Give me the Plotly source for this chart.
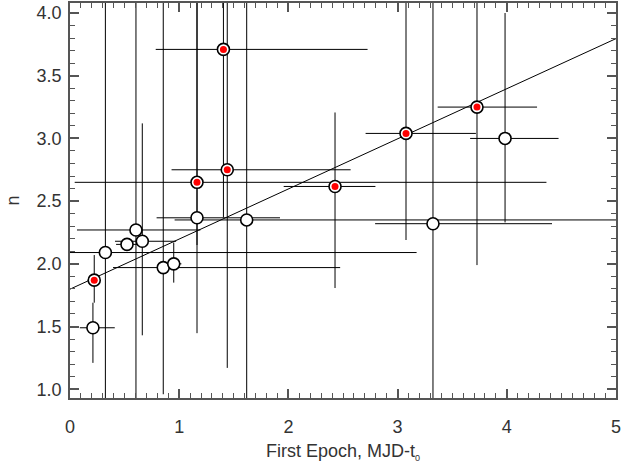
import plotly.graph_objects as go

# Red (filled) points
red_x = [1.405, 1.163, 1.440, 2.427, 3.077, 3.727, 0.222]
red_y = [3.71, 2.65, 2.75, 2.617, 3.04, 3.25, 1.87]
red_xm = [0.62, 1.12, 0.51, 0.47, 0.37, 0.36, 0.06]
red_xp = [1.32, 3.20, 1.13, 0.37, 0.64, 0.55, 0.05]
red_ym = [1.34, 0.50, 1.58, 0.81, 0.85, 1.26, 0.18]
red_yp = [1.00, 1.50, 1.50, 0.59, 1.20, 1.00, 0.20]

# Open points
open_x = [0.21, 0.324, 0.522, 0.604, 0.662, 0.854, 0.95, 1.163, 1.618, 3.324, 3.984]
open_y = [1.49, 2.09, 2.155, 2.27, 2.18, 1.97, 2.0, 2.367, 2.35, 2.32, 3.0]
open_xm = [0.12, 0.50, 0.10, 0.54, 0.25, 0.46, 0.06, 0.37, 0.66, 0.53, 0.32]
open_xp = [0.20, 2.85, 0.10, 0.59, 0.31, 1.62, 0.07, 0.76, 3.60, 1.09, 0.49]
open_ym = [0.28, 1.50, 0.05, 2.00, 0.75, 1.01, 0.15, 0.92, 2.00, 2.00, 0.67]
open_yp = [0.20, 2.50, 0.05, 2.00, 0.94, 2.50, 0.17, 2.00, 2.00, 2.00, 1.00]

# Linear fit
fit_x = [0.0, 5.0]
fit_y = [1.798, 3.796]

txt = "#333333"
axc = "#555555"

def eb(plus, minus):
    return dict(type="data", symmetric=False, array=plus, arrayminus=minus,
                color="black", thickness=1, width=0)

fig = go.Figure()
fig.add_trace(go.Scatter(x=open_x, y=open_y, mode="markers",
                         error_x=eb(open_xp, open_xm), error_y=eb(open_yp, open_ym),
                         marker=dict(size=12, color="rgba(0,0,0,0)", line=dict(width=0)),
                         showlegend=False, hoverinfo="skip"))
fig.add_trace(go.Scatter(x=red_x, y=red_y, mode="markers",
                         error_x=eb(red_xp, red_xm), error_y=eb(red_yp, red_ym),
                         marker=dict(size=12, color="rgba(0,0,0,0)", line=dict(width=0)),
                         showlegend=False, hoverinfo="skip"))
fig.add_trace(go.Scatter(x=fit_x, y=fit_y, mode="lines",
                         line=dict(color="black", width=1), showlegend=False))
fig.add_trace(go.Scatter(x=open_x, y=open_y, mode="markers",
                         marker=dict(size=12, color="white", line=dict(color="black", width=1.6)),
                         showlegend=False))
fig.add_trace(go.Scatter(x=red_x, y=red_y, mode="markers",
                         marker=dict(size=12, color="white", line=dict(color="black", width=1.6)),
                         showlegend=False))
fig.add_trace(go.Scatter(x=red_x, y=red_y, mode="markers",
                         marker=dict(size=7, color="red", line=dict(width=0)),
                         showlegend=False))

fig.update_layout(
    width=623, height=467,
    margin=dict(l=70, r=7, t=3, b=69),
    paper_bgcolor="white", plot_bgcolor="white",
    font=dict(family="Liberation Sans, Arial, sans-serif", size=18, color=txt),
    annotations=[
        dict(text="First Epoch, MJD-t<sub><span style='font-size:9px'>0</span></sub>",
             xref="paper", yref="paper",
             x=0.5, y=0, xanchor="center", yanchor="middle", yshift=-54,
             showarrow=False, font=dict(size=18, color=txt)),
        dict(text="n", xref="paper", yref="paper", x=0, y=0.5,
             xanchor="center", yanchor="middle", xshift=-58, textangle=-90,
             showarrow=False, font=dict(size=18, color=txt)),
    ],
)
fig.update_xaxes(
    range=[0, 5], dtick=1, tick0=0, showgrid=False, zeroline=False, automargin=False,
    showline=True, linecolor=axc, linewidth=1.5, mirror="ticks",
    ticks="inside", ticklen=9, tickcolor=axc, tickwidth=1.5,
    minor=dict(dtick=0.1, ticks="inside", ticklen=5, tickcolor=axc, tickwidth=1, showgrid=False),
    ticklabelstandoff=12, ticklabeloverflow="allow",
)
fig.update_yaxes(
    range=[0.93, 4.08], dtick=0.5, tick0=1.0, tickformat=".1f", showgrid=False, zeroline=False,
    automargin=False,
    showline=True, linecolor=axc, linewidth=1.5, mirror="ticks",
    ticks="inside", ticklen=9, tickcolor=axc, tickwidth=1.5,
    minor=dict(dtick=0.1, ticks="inside", ticklen=5, tickcolor=axc, tickwidth=1, showgrid=False),
    ticklabelstandoff=3, ticklabeloverflow="allow",
)
fig.write_html("out.html", config={"displayModeBar": False},
               post_script="document.body.style.margin='0';document.body.style.overflow='hidden';")
